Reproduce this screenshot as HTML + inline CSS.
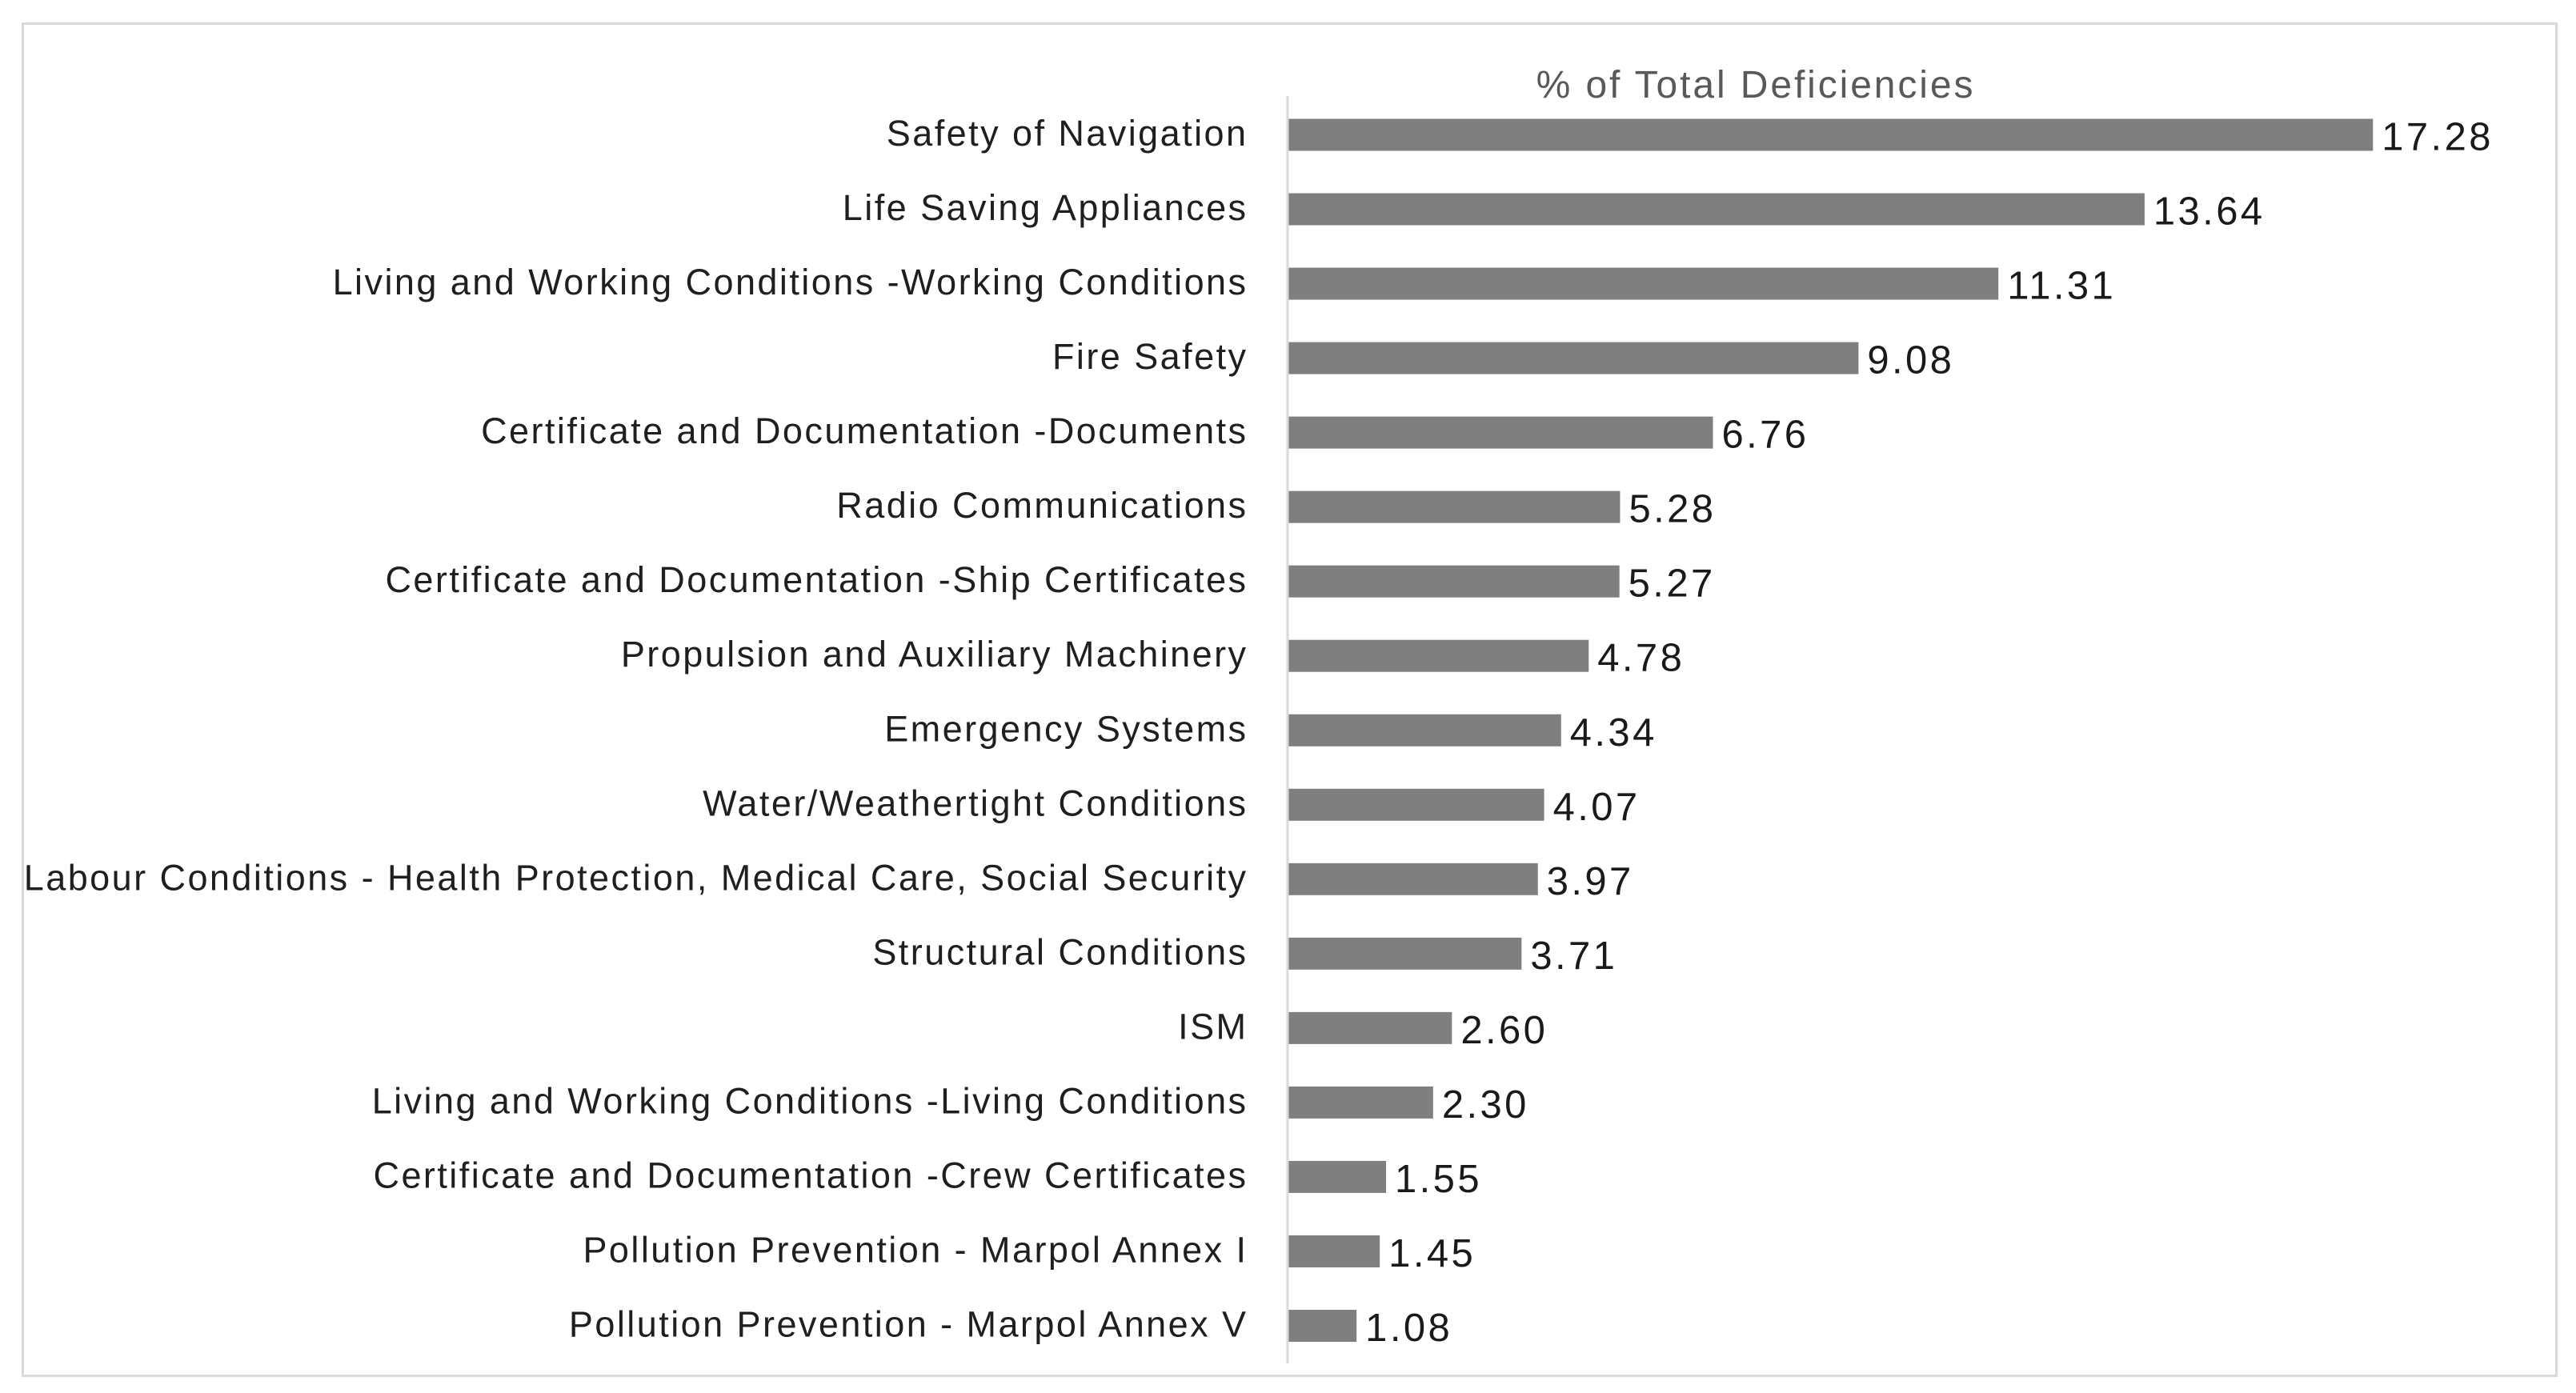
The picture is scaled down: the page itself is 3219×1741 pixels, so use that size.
<!DOCTYPE html>
<html lang="en">
<head>
<meta charset="utf-8">
<title>% of Total Deficiencies</title>
<style>
  html, body { margin: 0; padding: 0; background: #ffffff; }
  svg { display: block; }
  text { font-family: "Liberation Sans", sans-serif; }
</style>
</head>
<body>
<svg id="chart" xmlns="http://www.w3.org/2000/svg" width="3219" height="1741" viewBox="0 0 3219 1741">
  <rect x="28.5" y="29.5" width="3166" height="1690" fill="#ffffff" stroke="#d9d9d9" stroke-width="3"/>
  <text x="2194" y="122" text-anchor="middle" font-size="48" fill="#595959" letter-spacing="2.9">% of Total Deficiencies</text>
  <line x1="1609" y1="120" x2="1609" y2="1704" stroke="#d9d9d9" stroke-width="3"/>
  <g id="labels"></g>
  <g id="bars"></g>
  <g id="values"></g>
</svg>
<script>
const categories = [
  "Safety of Navigation",
  "Life Saving Appliances",
  "Living and Working Conditions -Working Conditions",
  "Fire Safety",
  "Certificate and Documentation -Documents",
  "Radio Communications",
  "Certificate and Documentation -Ship Certificates",
  "Propulsion and Auxiliary Machinery",
  "Emergency Systems",
  "Water/Weathertight Conditions",
  "Labour Conditions - Health Protection, Medical Care, Social Security",
  "Structural Conditions",
  "ISM",
  "Living and Working Conditions -Living Conditions",
  "Certificate and Documentation -Crew Certificates",
  "Pollution Prevention - Marpol Annex I",
  "Pollution Prevention - Marpol Annex V"
];
const percentages = [17.28, 13.64, 11.31, 9.08, 6.76, 5.28, 5.27, 4.78, 4.34, 4.07, 3.97, 3.71, 2.60, 2.30, 1.55, 1.45, 1.08];

const SVG_NS = "http://www.w3.org/2000/svg";
const plotLeft = 1610.5;
const pixelsPerUnit = 78.4;
const firstCenter = 168.5;
const lastCenter = 1657;
const barHeight = 40;

function xScale(v) {
  return plotLeft + v * pixelsPerUnit;
}
function yScale(i) {
  return firstCenter + i * (lastCenter - firstCenter) / (categories.length - 1);
}

const labelsGroup = document.getElementById("labels");
const barsGroup = document.getElementById("bars");
const valuesGroup = document.getElementById("values");

categories.forEach(function (name, i) {
  const label = document.createElementNS(SVG_NS, "text");
  
  
  label.setAttribute("x", 1559.5);
  label.setAttribute("y", yScale(i) + 13.5);
  label.setAttribute("text-anchor", "end");
  label.setAttribute("font-size", "45");
  label.setAttribute("letter-spacing", "2.45");
  label.setAttribute("fill", "#1f1f1f");
  label.textContent = name;
  labelsGroup.appendChild(label);

  const bar = document.createElementNS(SVG_NS, "rect");
  
  
  bar.setAttribute("x", plotLeft);
  bar.setAttribute("y", yScale(i) - barHeight / 2);
  bar.setAttribute("width", xScale(percentages[i]) - plotLeft);
  bar.setAttribute("height", barHeight);
  bar.setAttribute("fill", "#7f7f7f");
  barsGroup.appendChild(bar);

  const value = document.createElementNS(SVG_NS, "text");
  
  
  value.setAttribute("x", xScale(percentages[i]) + 11);
  value.setAttribute("y", yScale(i) + 19);
  value.setAttribute("font-size", "49");
  value.setAttribute("letter-spacing", "3.4");
  value.setAttribute("fill", "#1a1a1a");
  value.textContent = percentages[i].toFixed(2);
  valuesGroup.appendChild(value);
});
</script>
</body>
</html>
